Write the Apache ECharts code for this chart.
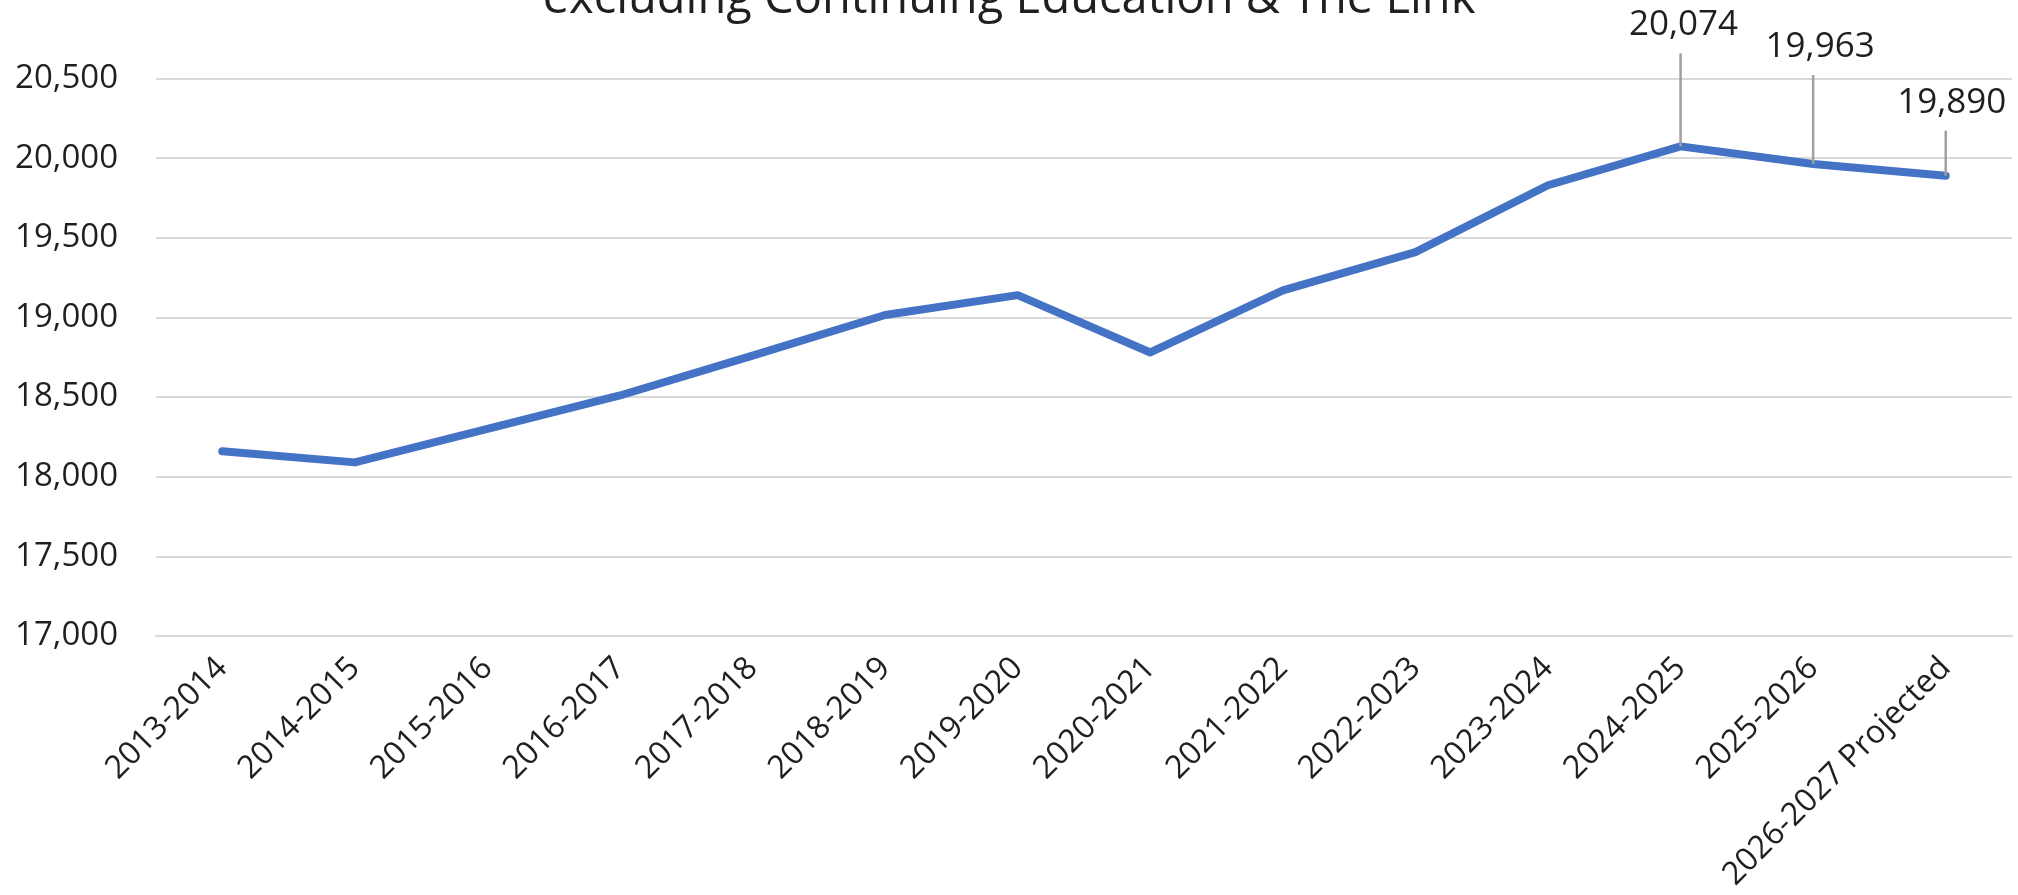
<!DOCTYPE html>
<html>
<head>
<meta charset="utf-8">
<title>Enrollment excluding Continuing Education &amp; The Link</title>
<script src="https://cdn.jsdelivr.net/npm/echarts@6/dist/echarts.min.js"></script>
<style>
  html, body { margin: 0; padding: 0; background: #ffffff; }
  #chart { width: 2018px; height: 895px; }
</style>
</head>
<body>
<div id="chart"></div>
<script>
// Academic years on the category axis
const years = [
  '2013-2014', '2014-2015', '2015-2016', '2016-2017', '2017-2018',
  '2018-2019', '2019-2020', '2020-2021', '2021-2022', '2022-2023',
  '2023-2024', '2024-2025', '2025-2026', '2026-2027 Projected'
];

// Enrollment per year
const enrollment = [
  18160, 18090, 18300, 18510, 18760,
  19015, 19140, 18780, 19170, 19410,
  19830, 20074, 19963, 19890
];

// Value axis ticks
const yTicks = [17000, 17500, 18000, 18500, 19000, 19500, 20000, 20500];

// Years whose value is called out above the line
const calloutYears = ['2024-2025', '2025-2026', '2026-2027 Projected'];

// Leader-line look for each callout (height of the line above the point, label nudge)
const calloutStyle = [
  { rise: 93, dx: 3 },
  { rise: 89, dx: 7 },
  { rise: 45, dx: 6 }
];

const FONT = '"Open Sans", "Noto Sans", sans-serif';
const TEXT = '#1f1f1f';
const fmt = v => Number(v).toLocaleString('en-US');

const calloutData = calloutYears.map(y => {
  const i = years.indexOf(y);
  return [i, enrollment[i]];
});

const chart = echarts.init(document.getElementById('chart'), null, { renderer: 'canvas' });

chart.setOption({
  backgroundColor: '#ffffff',
  animation: false,
  title: {
    text: 'excluding Continuing Education & The Link',
    left: 'center',
    top: -35,
    textStyle: {
      fontFamily: FONT,
      fontSize: 47,
      fontWeight: 'normal',
      color: TEXT,
      lineHeight: 60
    }
  },
  grid: {
    left: 156,
    right: 6,
    top: 78.5,
    bottom: 259,
    containLabel: false
  },
  xAxis: {
    type: 'category',
    data: years,
    boundaryGap: true,
    axisLine: { show: true, lineStyle: { color: '#d9d9d9', width: 2 } },
    axisTick: { show: false },
    axisLabel: {
      rotate: 45,
      margin: 27,
      interval: 0,
      fontFamily: FONT,
      fontSize: 32,
      color: TEXT
    }
  },
  yAxis: {
    type: 'value',
    min: yTicks[0],
    max: yTicks[yTicks.length - 1],
    interval: yTicks[1] - yTicks[0],
    axisLine: { show: false },
    axisTick: { show: false },
    splitLine: { lineStyle: { color: '#d9d9d9', width: 2 } },
    axisLabel: {
      margin: 38,
      fontFamily: FONT,
      fontSize: 33,
      color: TEXT,
      formatter: v => fmt(v)
    }
  },
  series: [
    {
      name: 'Enrollment',
      type: 'line',
      data: enrollment,
      showSymbol: false,
      symbol: 'none',
      lineStyle: { color: '#4472c4', width: 8, cap: 'round', join: 'round' },
      z: 3
    },
    {
      name: 'Callouts',
      type: 'custom',
      data: calloutData,
      clip: false,
      z: 4,
      renderItem: function (params, api) {
        const idx = api.value(0);
        const val = api.value(1);
        const p = api.coord([idx, val]);
        const st = calloutStyle[params.dataIndex];
        const top = p[1] - st.rise;
        return {
          type: 'group',
          children: [
            {
              type: 'line',
              shape: { x1: p[0], y1: p[1], x2: p[0], y2: top },
              style: { stroke: '#a0a0a0', lineWidth: 2.5 }
            },
            {
              type: 'text',
              style: {
                x: p[0] + st.dx,
                y: top - 28,
                text: fmt(val),
                align: 'center',
                verticalAlign: 'middle',
                fontFamily: FONT,
                fontSize: 35,
                fill: TEXT
              }
            }
          ]
        };
      }
    }
  ]
});
</script>
</body>
</html>
